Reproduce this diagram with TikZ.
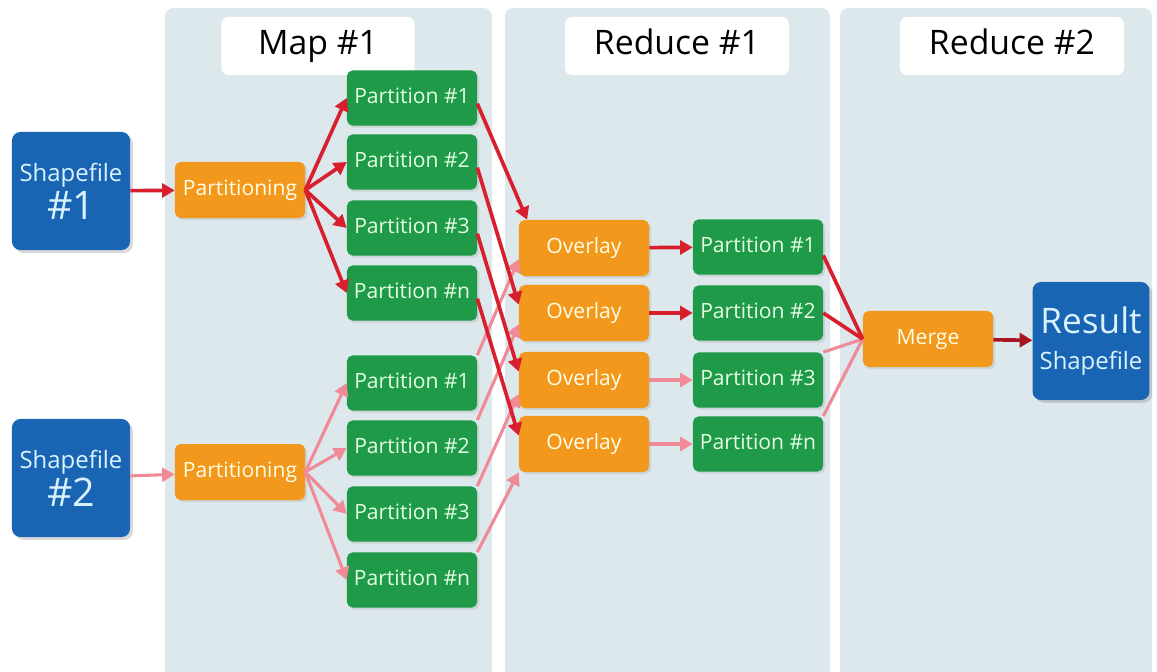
\documentclass[tikz,border=0pt]{standalone}
\usepackage{fontspec}
\setmainfont{Open Sans}
\usetikzlibrary{arrows.meta,shadows}

\definecolor{panelbg}{HTML}{DDE8EC}
\definecolor{fileblue}{HTML}{1A64B4}
\definecolor{steporange}{HTML}{F2981C}
\definecolor{partgreen}{HTML}{1F9A48}
\definecolor{redline}{HTML}{D81F2E}
\definecolor{pinkline}{HTML}{EF8A96}
\definecolor{darkred}{HTML}{A8141F}

\tikzset{
  panel/.style={fill=panelbg, rounded corners=6pt},
  titlebox/.style={fill=white, rounded corners=5pt, minimum height=1.45cm,
    text height=17pt, text depth=5pt, font=\fontsize{24}{28}\selectfont},
  filebox/.style={fill=fileblue, text=white!85!cyan, rounded corners=6pt,
    minimum width=2.95cm, minimum height=2.95cm, align=center,
    font=\fontsize{17}{27}\selectfont,
    drop shadow={opacity=0.3, shadow xshift=2pt, shadow yshift=-2pt}},
  orangebox/.style={fill=steporange, text=white!90!yellow, rounded corners=4pt,
    minimum width=3.25cm, minimum height=1.4cm, text height=11pt, text depth=3pt,
    font=\fontsize{15}{18}\selectfont,
    drop shadow={opacity=0.2, shadow xshift=1.5pt, shadow yshift=-1.5pt}},
  greenbox/.style={fill=partgreen, text=white!90!green, rounded corners=4pt,
    minimum width=3.25cm, minimum height=1.38cm, text height=11pt, text depth=3pt,
    font=\fontsize{15}{18}\selectfont,
    drop shadow={opacity=0.2, shadow xshift=1.5pt, shadow yshift=-1.5pt}},
  redarrow/.style={draw=redline, line width=2.6pt, -{Triangle[length=9pt,width=10pt]}},
  pinkarrow/.style={draw=pinkline, line width=2.2pt, -{Triangle[length=9pt,width=10pt]}},
}

\begin{document}
\begin{tikzpicture}[x=0.025cm, y=-0.025cm]
  \useasboundingbox (0,0) rectangle (1157,671);

  % columns
  \fill[panel] (165,8) rectangle (492,680);
  \fill[panel] (505,8) rectangle (830,680);
  \fill[panel] (840,8) rectangle (1152,680);

  \node[titlebox, minimum width=4.83cm] (tmap) at (318,46) {Map \#1};
  \node[titlebox, minimum width=5.6cm] (tred1) at (677,46) {Reduce \#1};
  \node[titlebox, minimum width=5.6cm] (tred2) at (1012,46) {Reduce \#2};

  % inputs
  \node[filebox] (shp1) at (71,191)
    {Shapefile\\{\fontsize{28}{27}\selectfont \#1}};
  \node[filebox] (shp2) at (71,478)
    {Shapefile\\{\fontsize{28}{27}\selectfont \#2}};

  \node[orangebox] (split1) at (240,190) {Partitioning};
  \node[orangebox] (split2) at (240,472) {Partitioning};

  % map output
  \node[greenbox] (ma1) at (412,98) {Partition \#1};
  \node[greenbox] (ma2) at (412,162) {Partition \#2};
  \node[greenbox] (ma3) at (412,228) {Partition \#3};
  \node[greenbox] (ma4) at (412,293) {Partition \#n};
  \node[greenbox] (mb1) at (412,383) {Partition \#1};
  \node[greenbox] (mb2) at (412,448) {Partition \#2};
  \node[greenbox] (mb3) at (412,514) {Partition \#3};
  \node[greenbox] (mb4) at (412,580) {Partition \#n};

  % reduce 1
  \node[orangebox] (ov1) at (584,248) {Overlay};
  \node[orangebox] (ov2) at (584,313) {Overlay};
  \node[orangebox] (ov3) at (584,380) {Overlay};
  \node[orangebox] (ov4) at (584,444) {Overlay};
  \node[greenbox] (rp1) at (758,247) {Partition \#1};
  \node[greenbox] (rp2) at (758,313) {Partition \#2};
  \node[greenbox] (rp3) at (758,380) {Partition \#3};
  \node[greenbox] (rp4) at (758,444) {Partition \#n};

  % reduce 2
  \node[orangebox] (merge) at (928,339) {Merge};
  \node[filebox, minimum width=2.92cm, font=\fontsize{17}{26}\selectfont] (result) at (1091,341)
    {{\fontsize{25}{26}\selectfont Result}\\Shapefile};

  % connectors
  \draw[redarrow] (shp1) -- (split1);
  \draw[pinkarrow] (shp2) -- (split2);

  \draw[redarrow] (split1.east) -- (ma1.west);
  \draw[redarrow] (split1.east) -- (ma2.west);
  \draw[redarrow] (split1.east) -- (ma3.west);
  \draw[redarrow] (split1.east) -- (ma4.west);
  \draw[pinkarrow] (split2.east) -- (mb1.west);
  \draw[pinkarrow] (split2.east) -- (mb2.west);
  \draw[pinkarrow] (split2.east) -- (mb3.west);
  \draw[pinkarrow] (split2.east) -- (mb4.west);

  \draw[pinkarrow] (mb1.north east) -- ([yshift=-8pt]ov1.west);
  \draw[pinkarrow] (mb2.north east) -- ([yshift=-8pt]ov2.west);
  \draw[pinkarrow] (mb3.north east) -- ([yshift=-10pt]ov3.west);
  \draw[pinkarrow] (mb4.north east) -- (ov4.south west);
  \draw[redarrow] ([yshift=-4pt]ma1.east) -- ([xshift=6pt]ov1.north west);
  \draw[redarrow] ([yshift=-4pt]ma2.east) -- ([yshift=6pt]ov2.west);
  \draw[redarrow] ([yshift=-4pt]ma3.east) -- ([yshift=6pt]ov3.west);
  \draw[redarrow] ([yshift=-4pt]ma4.east) -- ([yshift=6pt]ov4.west);

  \draw[redarrow] (ov1) -- (rp1);
  \draw[redarrow] (ov2) -- (rp2);
  \draw[pinkarrow] (ov3) -- (rp3);
  \draw[pinkarrow] (ov4) -- (rp4);

  \draw[pinkline, line width=2.2pt] (rp4.north east) -- (merge.west);
  \draw[pinkline, line width=2.2pt] (rp3.north east) -- (merge.west);
  \draw[redline, line width=2.6pt] (rp2.east) -- (merge.west);
  \draw[redline, line width=2.6pt] ([yshift=-6pt]rp1.east) -- (merge.west);

  \draw[draw=darkred, line width=2.6pt, -{Triangle[length=9pt,width=10pt]}] (merge) -- (result);
\end{tikzpicture}
\end{document}
